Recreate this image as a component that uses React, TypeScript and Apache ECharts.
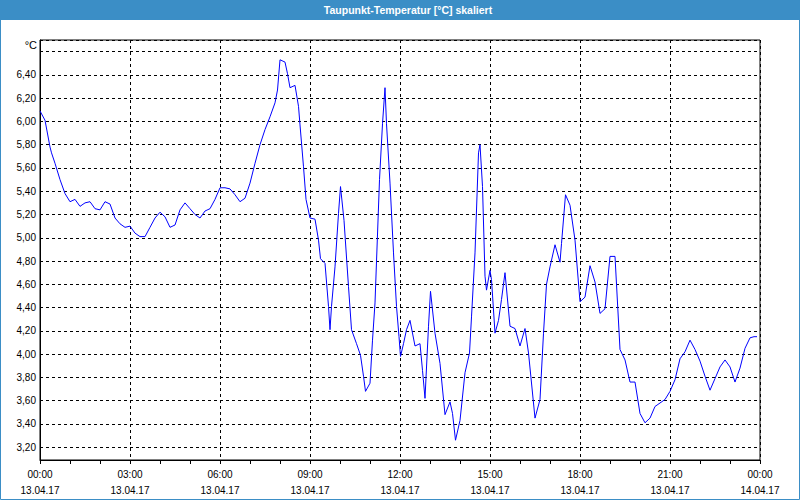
import React, { useEffect, useRef } from "react";
import * as echarts from "echarts";

const chartTitle = "Taupunkt-Temperatur [°C] skaliert";
const unitLabel = "°C";

// minutes since 13.04.17 00:00
const timesMin = [
  0, 10, 20, 23, 30, 40, 50, 60, 70, 80, 90, 100, 110, 120, 130, 140, 150, 160, 170, 180,
  190, 200, 210, 220, 230, 240, 250, 260, 270, 280, 290, 300, 310, 320, 330, 340, 350, 360,
  370, 380, 390, 400, 410, 420, 430, 440, 450, 460, 470, 475, 480, 490, 495, 500, 510, 517,
  520, 527, 532, 540, 550, 557, 561, 570, 577, 580, 583, 590, 597, 601, 608, 617, 623, 633,
  641, 647, 651, 660, 665, 670, 679, 685, 690, 693, 700, 707, 713, 718, 721, 727, 733, 740,
  750, 760, 765, 770, 777, 781, 790, 800, 810, 820, 825, 831, 840, 850, 859, 863, 870, 877,
  880, 885, 890, 893, 900, 903, 910, 917, 923, 930, 940, 950, 960, 970, 977, 990, 1000, 1007,
  1013, 1020, 1030, 1040, 1043, 1051, 1060, 1070, 1080, 1090, 1100, 1110, 1120, 1130, 1140,
  1150, 1160, 1170, 1180, 1190, 1200, 1210, 1220, 1230, 1240, 1250, 1260, 1270, 1280, 1290,
  1300, 1310, 1320, 1330, 1340, 1350, 1360, 1370, 1380, 1390, 1400, 1410, 1420, 1428, 1434,
];

const dewPoint = [
  6.09, 6.01, 5.78, 5.73, 5.64, 5.5, 5.38, 5.31, 5.33, 5.27, 5.3, 5.31, 5.25, 5.24, 5.31, 5.29, 5.17, 5.12, 5.09, 5.1,
  5.04, 5.01, 5.01, 5.09, 5.17, 5.22, 5.18, 5.09, 5.11, 5.24, 5.3, 5.25, 5.2, 5.17, 5.23, 5.25, 5.33, 5.43,
  5.43, 5.42, 5.37, 5.31, 5.34, 5.47, 5.64, 5.8, 5.93, 6.04, 6.16, 6.27, 6.53, 6.51, 6.41, 6.29, 6.31, 6.13,
  5.97, 5.61, 5.33, 5.17, 5.16, 4.98, 4.82, 4.78, 4.41, 4.21, 4.41, 4.75, 5.21, 5.44, 5.15, 4.58, 4.21, 4.09,
  3.99, 3.81, 3.68, 3.75, 4.12, 4.44, 5.5, 5.98, 6.29, 5.98, 5.47, 4.87, 4.41, 4.15, 3.98, 4.09, 4.21, 4.29,
  4.07, 4.09, 3.86, 3.62, 4.24, 4.54, 4.18, 3.92, 3.48, 3.59, 3.49, 3.26, 3.43, 3.84, 4.01, 4.32, 4.87, 5.73,
  5.8, 5.44, 4.67, 4.55, 4.72, 4.64, 4.18, 4.29, 4.47, 4.7, 4.24, 4.22, 4.07, 4.22, 4.01, 3.45, 3.61, 4.18,
  4.6, 4.75, 4.94, 4.79, 4.95, 5.37, 5.28, 4.98, 4.45, 4.49, 4.76, 4.62, 4.35, 4.39, 4.84,
  4.84, 4.04, 3.95, 3.76, 3.76, 3.49, 3.41, 3.45, 3.55, 3.58, 3.61, 3.68, 3.78, 3.96, 4.02,
  4.12, 4.04, 3.94, 3.81, 3.69, 3.79, 3.89, 3.95, 3.89, 3.76, 3.88, 4.05, 4.14, 4.15, 4.15,
];

const dayLabels = ["13.04.17", "14.04.17"];

const FRAME_BLUE = "#3b8ec6";
const FONT = "'Liberation Sans', Arial, sans-serif";

export default function App() {
  const ref = useRef<HTMLDivElement>(null);

  useEffect(() => {
    document.body.style.margin = "0";
    if (!ref.current) return;
    const chart = echarts.init(ref.current, undefined, { renderer: "svg" });
    const data = timesMin.map((t, i) => [t, dewPoint[i]]);

    const fmtTime = (v: number) => {
      const day = Math.floor(v / 1440);
      const m = v - day * 1440;
      const hh = String(Math.floor(m / 60)).padStart(2, "0");
      const mm = String(m % 60).padStart(2, "0");
      return `${hh}:${mm}\n${dayLabels[day] ?? ""}`;
    };

    chart.setOption({
      animation: false,
      backgroundColor: "#ffffff",
      grid: {
        left: 40,
        right: 40,
        top: 40,
        bottom: 40,
        show: true,
        borderColor: "#000",
        borderWidth: 1,
        backgroundColor: "#ffffff",
      },
      graphic: [
        {
          type: "rect",
          shape: { x: 0, y: 0, width: 800, height: 20 },
          style: { fill: FRAME_BLUE },
          silent: true,
        },
        {
          type: "text",
          x: 408,
          y: 10,
          style: {
            text: chartTitle,
            fill: "#ffffff",
            font: `bold 10.5px ${FONT}`,
            textAlign: "center",
            textVerticalAlign: "middle",
          },
        },
        {
          type: "rect",
          shape: { x: 0.5, y: 0.5, width: 799, height: 499 },
          style: { fill: "none", stroke: FRAME_BLUE, lineWidth: 1 },
          silent: true,
        },
        {
          type: "text",
          x: 37,
          y: 45,
          style: {
            text: unitLabel,
            fill: "#000",
            font: `11px ${FONT}`,
            textAlign: "right",
            textVerticalAlign: "middle",
          },
        },
      ],
      xAxis: {
        type: "value",
        min: 0,
        max: 1440,
        interval: 180,
        axisLine: { show: true, lineStyle: { color: "#000", width: 1 } },
        axisTick: { show: true, length: 4, lineStyle: { color: "#000" } },
        minorTick: { show: true, splitNumber: 3, length: 4, lineStyle: { color: "#000" } },
        splitLine: { show: true, lineStyle: { color: "#000", type: [3, 3], width: 1 } },
        axisLabel: {
          formatter: (v: number) => fmtTime(v),
          color: "#000",
          fontFamily: FONT,
          fontSize: 10,
          lineHeight: 16,
          margin: 6,
        },
      },
      yAxis: {
        type: "value",
        min: 3.09,
        max: 6.7,
        splitNumber: 18,
        axisLine: { show: true, lineStyle: { color: "#000", width: 1 } },
        axisTick: { show: false },
        splitLine: { show: true, lineStyle: { color: "#000", type: [3, 3], width: 1 } },
        axisLabel: {
          showMinLabel: false,
          showMaxLabel: false,
          color: "#000",
          fontFamily: FONT,
          fontSize: 10,
          margin: 4,
          formatter: (v: number) => {
            const k = v * 5;
            if (Math.abs(k - Math.round(k)) > 1e-6) return "";
            if (v > 6.5) return "";
            return v.toFixed(2).replace(".", ",");
          },
        },
      },
      series: [
        {
          type: "line",
          data,
          showSymbol: false,
          symbol: "none",
          lineStyle: { color: "#0000ff", width: 1 },
          silent: true,
        },
      ],
    });

    return () => chart.dispose();
  }, []);

  return (
    <div
      ref={ref}
      style={{ position: "absolute", left: 0, top: 0, width: 800, height: 500 }}
    />
  );
}
